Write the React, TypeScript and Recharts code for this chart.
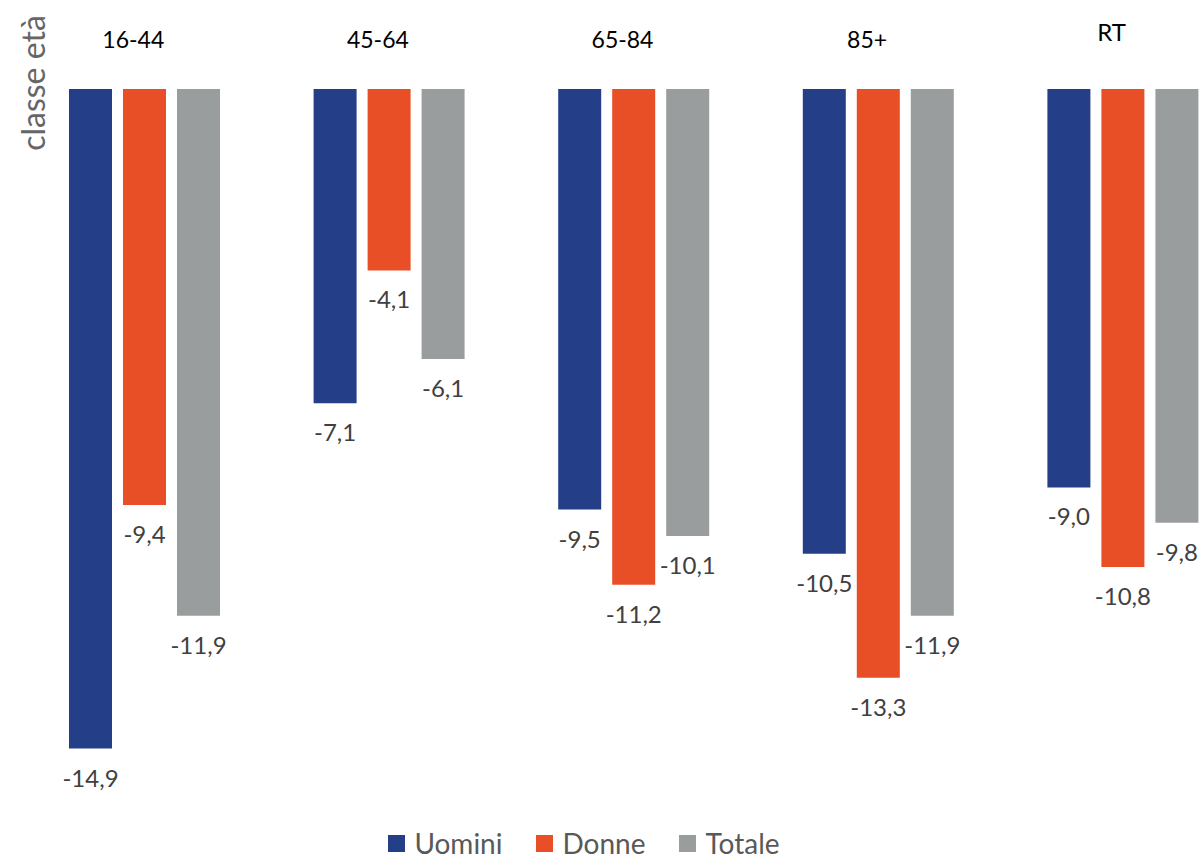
import { Bar, BarChart, LabelList, Legend, XAxis, YAxis } from 'recharts'

const categories = ['16-44', '45-64', '65-84', '85+', 'RT']
const uomini = [-14.9, -7.1, -9.5, -10.5, -9.0]
const donne = [-9.4, -4.1, -11.2, -13.3, -10.8]
const totale = [-11.9, -6.1, -10.1, -11.9, -9.8]

const seriesNames = ['Uomini', 'Donne', 'Totale']
const colors = ['#243f88', '#e94f26', '#9a9d9e']

const data = categories.map((c, i) => ({
  classe: c,
  Uomini: uomini[i],
  Donne: donne[i],
  Totale: totale[i],
}))

const FONT = 'Lato, Carlito, "Open Sans", sans-serif'

const fmt = (v: number) => v.toFixed(1).replace('.', ',')

function ValueLabel(props: any) {
  const vb = props.viewBox ?? {}
  const x = props.x ?? vb.x
  const y = props.y ?? vb.y
  const width = props.width ?? vb.width
  const height = props.height ?? vb.height
  const bottom = Math.max(y, y + height)
  return (
    <text x={x + width / 2} y={bottom + 38} textAnchor="middle" fontSize={24} fill="#404040" fontFamily={FONT}>
      {fmt(Number(props.value))}
    </text>
  )
}

function CategoryTick({ x, payload }: any) {
  const isRT = payload.value === 'RT'
  return (
    <text
      x={x - 11}
      y={isRT ? 41 : 48}
      textAnchor="middle"
      fontSize={isRT ? 24 : 23}
      fill="#000"
      fontFamily={FONT}
    >
      {payload.value}
    </text>
  )
}

function LegendContent() {
  return (
    <div style={{ display: 'flex', justifyContent: 'center', gap: 34, fontFamily: FONT, fontSize: 28, color: '#595959' }}>
      {seriesNames.map((n, i) => (
        <div key={n} style={{ display: 'flex', alignItems: 'center', gap: 9 }}>
          <span style={{ display: 'inline-block', width: 17, height: 17, background: colors[i] }} />
          <span>{n}</span>
        </div>
      ))}
    </div>
  )
}

export default function App() {
  return (
    <div style={{ position: 'absolute', left: 0, top: 0, width: 1203, height: 859, overflow: 'hidden', background: '#fff' }}>
      <div
        style={{
          position: 'absolute',
          left: 32,
          top: 83,
          transform: 'translate(-50%, -50%) rotate(-90deg)',
          fontFamily: FONT,
          fontWeight: 400,
          fontSize: 32,
          color: '#666666',
          whiteSpace: 'nowrap',
          zIndex: 2,
        }}
      >
        classe età
      </div>
      <BarChart
        width={1260}
        height={859}
        data={data}
        margin={{ top: 29, right: 15, left: 22, bottom: 106 }}
        barSize={43}
        barGap={11}
      >
        <XAxis
          dataKey="classe"
          orientation="top"
          height={60}
          axisLine={false}
          tickLine={false}
          tick={<CategoryTick />}
          interval={0}
        />
        <YAxis hide domain={[-15, 0]} />
        <Legend
          layout="horizontal"
          verticalAlign="middle"
          align="center"
          content={<LegendContent />}
          wrapperStyle={{ left: 0, top: 826, width: 1168 }}
        />
        {seriesNames.map((n, i) => (
          <Bar key={n} dataKey={n} fill={colors[i]} isAnimationActive={false}>
            <LabelList dataKey={n} content={<ValueLabel />} />
          </Bar>
        ))}
      </BarChart>
    </div>
  )
}
